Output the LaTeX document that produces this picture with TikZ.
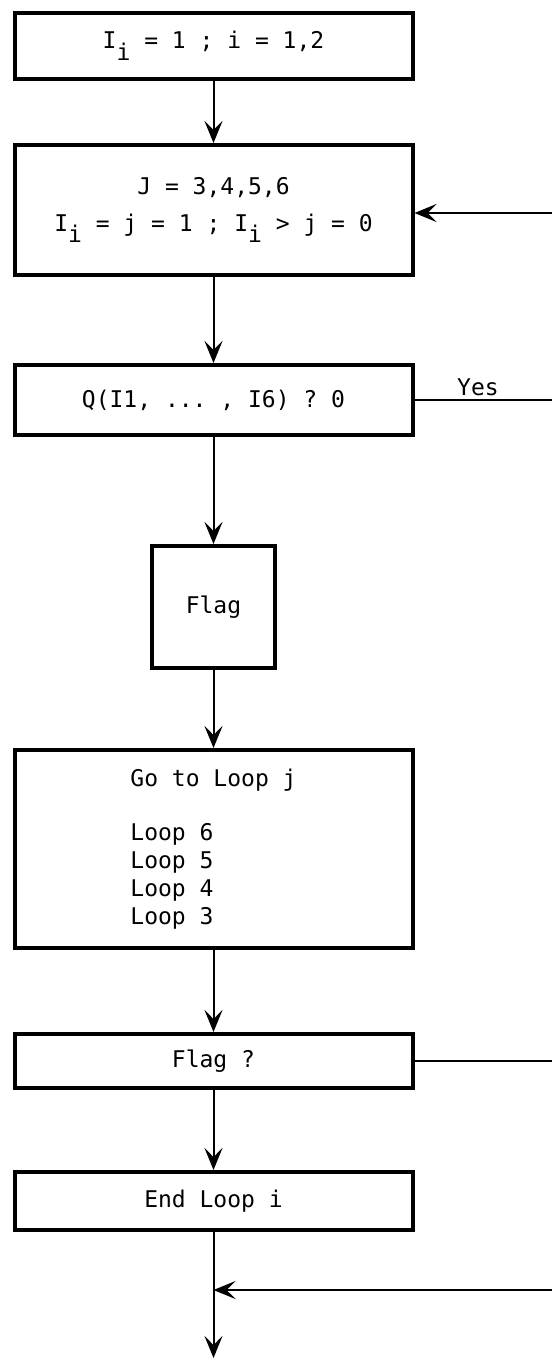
\documentclass[tikz,border=0pt]{standalone}
\usepackage{fontspec}
\setmonofont{DejaVu Sans Mono}
\usetikzlibrary{arrows.meta}
\newcommand{\lowsub}[1]{\raisebox{-0.5em}{#1}}

\begin{document}
\begin{tikzpicture}[x=1pt, y=-1pt,
    box/.style={draw, line width=4pt, inner sep=0pt, minimum width=398pt,
                font=\ttfamily\fontsize{23}{28}\selectfont},
    flow/.style={line width=2pt, -{Stealth[length=22pt,width=18pt,inset=9pt]}},
    wire/.style={line width=2pt}]
    \useasboundingbox (0,0) rectangle (552,1361);

    % Define the boxes down the middle
    \node[box, minimum height=66pt]  (init)  at (213.5,46)   {I\lowsub{i} = 1 ; i = 1,2};
    \node[box, minimum height=130pt, align=center] (setj) at (213.5,210)
        {J = 3,4,5,6\\[9pt]I\lowsub{i} = j = 1 ; I\lowsub{i} > j = 0};
    \node[box, minimum height=70pt]  (test)  at (213.5,400)  {Q(I1, ... , I6) ? 0};
    \node[box, minimum width=123pt, minimum height=122pt] (flag) at (213.5,607) {Flag};
    \node[box, minimum height=198pt, align=left] (goto) at (213.5,849)
        {Go to Loop j\\[26pt]Loop 6\\Loop 5\\Loop 4\\Loop 3};
    \node[box, minimum height=54pt]  (flagq) at (213.5,1061) {Flag ?};
    \node[box, minimum height=58pt]  (endi)  at (213.5,1201) {End Loop i};

    % Free ends at the right margin and at the bottom
    \coordinate (backin)  at (552,213);
    \coordinate (yesout)  at (552,400);
    \coordinate (flagout) at (552,1061);
    \coordinate (joinin)  at (552,1290);
    \coordinate (join)    at (213.5,1290);
    \coordinate (exit)    at (213.5,1358);

    % Draw the main flow
    \draw[flow] (init) -- (setj);
    \draw[flow] (setj) -- (test);
    \draw[flow] (test) -- (flag);
    \draw[flow] (flag) -- (goto);
    \draw[flow] (goto) -- (flagq);
    \draw[flow] (flagq) -- (endi);
    \draw[flow] (endi) -- (exit);

    % Lines to and from the right
    \draw[flow] (backin) -- (backin -| setj.east);
    \draw[wire] (test.east) -- (yesout);
    \draw[wire] (flagq.east) -- (flagout);
    \draw[flow] (joinin) -- (join);

    % Label `Yes'
    \node[font=\ttfamily\fontsize{23}{28}\selectfont, above] (yes) at (478,399) {Yes};

\end{tikzpicture}
\end{document}
